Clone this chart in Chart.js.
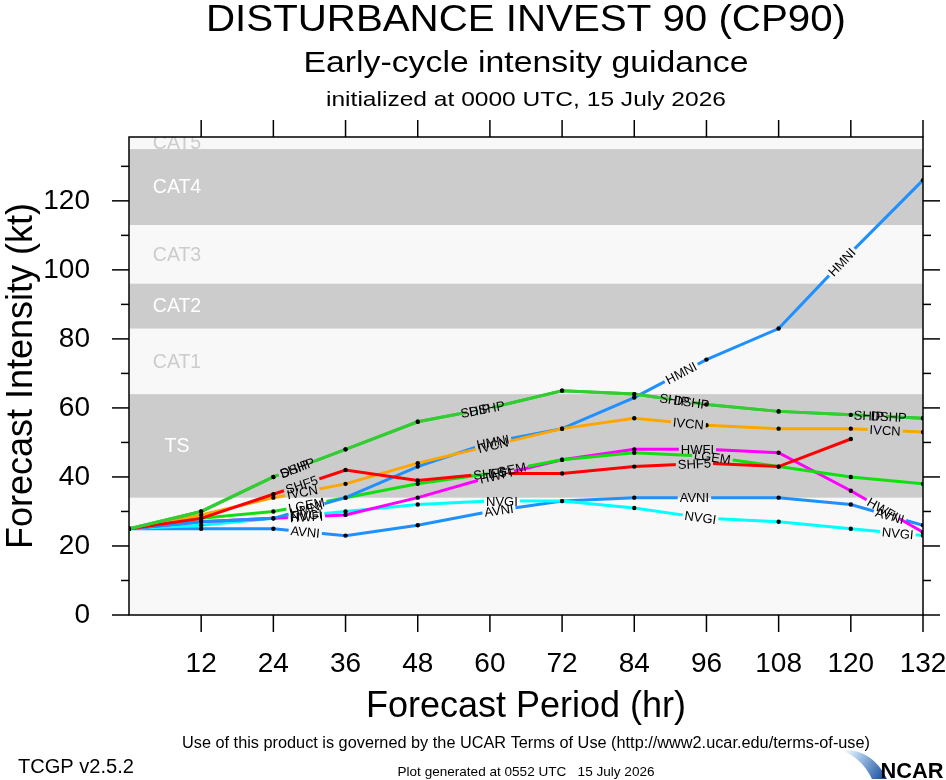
<!DOCTYPE html>
<html><head><meta charset="utf-8">
<script src="https://cdn.jsdelivr.net/npm/chart.js@4.4.1/dist/chart.umd.min.js"></script>
<style>html,body{margin:0;padding:0;background:#fff;overflow:hidden}</style>
</head><body>
<canvas id="c" width="946" height="780"></canvas>
<script>
// ---- data ----
const hours = [0,12,24,36,48,60,72,84,96,108,120,132];
const DSHP = [25,30,40,48,56,60,65,64,61,59,58,57];
const SHIP = [25,30,40,48,56,60,65,64,61,59,58,57];
const SHF5 = [25,28,35,42,39,41,41,43,44,43,51,null];
const IVCN = [25,29,34,38,44,49,54,57,55,54,54,53];
const HMNI = [25,27,28,34,43,50,54,63,74,83,105,126];
const LGEM = [25,28,30,34,38,41,45,47,46,43,40,38];
const HWFI = [25,27,28,29,34,40,45,48,48,47,36,24];
const NVGI = [25,26,28,30,32,33,33,31,28,27,25,23];
const AVNI = [25,25,25,23,26,30,33,34,34,34,32,26];
const modelNames = ['DSHP','SHIP','SHF5','IVCN','HMNI','LGEM','HWFI','NVGI','AVNI'];
const modelValues = [DSHP,SHIP,SHF5,IVCN,HMNI,LGEM,HWFI,NVGI,AVNI];
const modelColors = ['#33cc33','#33cc33','#ff0000','#ffa500','#1e90ff','#10e010','#ff00ff','#00ffff','#1e90ff'];
// hours along each line where its name is written
const labelHours = [
  [28,59.5,93.5,126.3],
  [27.5,57.6,90.7,123],
  [28.7,60,94],
  [28.8,60.5,93,125.7],
  [29.5,60.5,91.8,118.5],
  [29.5,63,97],
  [29.5,61,94.5,125.3],
  [29.5,62,95,127.8],
  [29.3,61.5,94,126.5]
];
const xTicks = [12,24,36,48,60,72,84,96,108,120,132];
const yMajor = [0,20,40,60,80,100,120];
const yMinor = [10,30,50,70,90,110,130];
const bandNames = ['TS','CAT1','CAT2','CAT3','CAT4','CAT5'];
const bandLow  = [34,64,83,96,113,135];
const bandHigh = [64,83,96,113,135,138.5];
const bandShaded = [true,false,true,false,true,false];

const FAM = '"Liberation Sans", Arial, Helvetica, sans-serif';
Chart.defaults.font.family = FAM;
Chart.defaults.color = '#000';

function fitText(ctx, text, cx, baseline, size, width, weight) {
  ctx.save();
  ctx.font = (weight || '') + ' ' + size + 'px ' + FAM;
  const w = ctx.measureText(text).width;
  const s = width ? width / w : 1;
  ctx.translate(cx, baseline);
  ctx.scale(s, 1);
  ctx.textAlign = 'center';
  ctx.textBaseline = 'alphabetic';
  ctx.fillStyle = '#000';
  ctx.fillText(text, 0, 0);
  ctx.restore();
}

function labelGeom(chart, di) {
  const xs = chart.scales.x, ys = chart.scales.y, ctx = chart.ctx;
  const vals = modelValues[di];
  ctx.save();
  ctx.font = '13px ' + FAM;
  const w = ctx.measureText(modelNames[di]).width;
  ctx.restore();
  const out = [];
  labelHours[di].forEach(h => {
    for (let i = 0; i < hours.length - 1; i++) {
      if (h >= hours[i] && h <= hours[i+1] && vals[i] != null && vals[i+1] != null) {
        const t = (h - hours[i]) / (hours[i+1] - hours[i]);
        const v = vals[i] + t * (vals[i+1] - vals[i]);
        const x1 = xs.getPixelForValue(hours[i]), y1 = ys.getPixelForValue(vals[i]);
        const x2 = xs.getPixelForValue(hours[i+1]), y2 = ys.getPixelForValue(vals[i+1]);
        out.push({x: xs.getPixelForValue(h), y: ys.getPixelForValue(v), a: Math.atan2(y2 - y1, x2 - x1), w});
        break;
      }
    }
  });
  return out;
}

const plotPlugin = {
  id: 'plotPlugin',
  beforeDatasetsDraw(chart) {
    const {ctx, chartArea: ca} = chart;
    const ys = chart.scales.y;
    ctx.save();
    ctx.fillStyle = '#f8f8f8';
    ctx.fillRect(ca.left, ca.top, ca.right - ca.left, ca.bottom - ca.top);
    ctx.beginPath();
    ctx.rect(ca.left, ca.top, ca.right - ca.left, ca.bottom - ca.top);
    ctx.clip();
    bandNames.forEach((n, i) => {
      const yTop = ys.getPixelForValue(bandHigh[i]);
      const yBot = ys.getPixelForValue(bandLow[i]);
      if (bandShaded[i]) {
        ctx.fillStyle = '#cccccc';
        ctx.fillRect(ca.left, yTop, ca.right - ca.left, yBot - yTop);
      }
    });
    ctx.font = '19.5px ' + FAM;
    ctx.textAlign = 'center';
    ctx.textBaseline = 'middle';
    bandNames.forEach((n, i) => {
      const yMid = ys.getPixelForValue((bandHigh[i] + bandLow[i]) / 2);
      ctx.fillStyle = bandShaded[i] ? '#ffffff' : '#cccccc';
      ctx.fillText(n, ca.left + 48, yMid + 1);
    });
    ctx.restore();
  },
  beforeDatasetDraw(chart, args) {
    const ctx = chart.ctx;
    const labs = labelGeom(chart, args.index);
    ctx.save();
    ctx.beginPath();
    ctx.rect(0, 0, chart.width, chart.height);
    labs.forEach(l => {
      const hw = l.w / 2 + 2, hh = 6.5;
      const c = Math.cos(l.a), s = Math.sin(l.a);
      const pts = [[-hw,-hh],[hw,-hh],[hw,hh],[-hw,hh]].map(([u,v]) => [l.x + u*c - v*s, l.y + u*s + v*c]);
      ctx.moveTo(pts[0][0], pts[0][1]);
      for (let k = 1; k < 4; k++) ctx.lineTo(pts[k][0], pts[k][1]);
      ctx.closePath();
    });
    ctx.clip('evenodd');
  },
  afterDatasetDraw(chart) {
    chart.ctx.restore();
  },
  afterDatasetsDraw(chart) {
    const ctx = chart.ctx;
    for (let di = modelNames.length - 1; di >= 0; di--) {
      labelGeom(chart, di).forEach(l => {
        ctx.save();
        ctx.translate(l.x, l.y);
        ctx.rotate(l.a);
        ctx.font = '13px ' + FAM;
        ctx.fillStyle = '#000';
        ctx.textAlign = 'center';
        ctx.textBaseline = 'middle';
        ctx.fillText(modelNames[di], 0, 1);
        ctx.restore();
      });
    }
  },
  afterDraw(chart) {
    const {ctx, chartArea: ca} = chart;
    const xs = chart.scales.x, ys = chart.scales.y;
    ctx.save();
    ctx.strokeStyle = '#000';
    ctx.lineWidth = 1.5;
    ctx.strokeRect(ca.left, ca.top, ca.right - ca.left, ca.bottom - ca.top);
    const line = (a, b, c, d) => { ctx.beginPath(); ctx.moveTo(a, b); ctx.lineTo(c, d); ctx.stroke(); };
    yMajor.forEach(v => { const y = ys.getPixelForValue(v); line(ca.left - 17, y, ca.left, y); line(ca.right, y, ca.right + 17, y); });
    yMinor.forEach(v => { const y = ys.getPixelForValue(v); line(ca.left - 8, y, ca.left, y); line(ca.right, y, ca.right + 8, y); });
    xTicks.forEach(h => { const x = xs.getPixelForValue(h); line(x, ca.bottom, x, ca.bottom + 17); line(x, ca.top, x, ca.top - 17); });
    ctx.restore();

    const cx = (ca.left + ca.right) / 2;
    fitText(ctx, 'DISTURBANCE INVEST 90 (CP90)', cx, 31, 37, 640);
    fitText(ctx, 'Early-cycle intensity guidance', cx, 72, 29, 445);
    fitText(ctx, 'initialized at 0000 UTC, 15 July 2026', cx, 106, 21, 400);
    fitText(ctx, 'Use of this product is governed by the UCAR Terms of Use (http://www2.ucar.edu/terms-of-use)', cx, 748, 16, 688);
    fitText(ctx, 'TCGP v2.5.2', 76, 773, 20.5, 116);
    fitText(ctx, 'Plot generated at 0552 UTC   15 July 2026', cx, 776, 13.5, 257);

    // NCAR logo
    ctx.save();
    const g = ctx.createLinearGradient(842, 750, 884, 778);
    g.addColorStop(0, '#ffffff');
    g.addColorStop(0.35, '#a9c8ea');
    g.addColorStop(1, '#1b4f9e');
    ctx.fillStyle = g;
    ctx.beginPath();
    ctx.moveTo(841, 750);
    ctx.quadraticCurveTo(872, 748, 887, 779);
    ctx.lineTo(872, 779);
    ctx.quadraticCurveTo(862, 758, 841, 750);
    ctx.closePath();
    ctx.fill();
    ctx.restore();
    fitText(ctx, 'NCAR', 912, 778, 22, 63, 'bold');
  }
};

const datasets = modelNames.map((n, i) => ({
  label: n,
  data: hours.map((h, k) => ({x: h, y: modelValues[i][k]})).filter(p => p.y != null),
  borderColor: modelColors[i],
  backgroundColor: modelColors[i],
  borderWidth: 3,
  pointRadius: 2.2,
  pointBackgroundColor: '#000',
  pointBorderWidth: 0,
  pointHoverRadius: 0,
  tension: 0,
  fill: false
}));

new Chart(document.getElementById('c'), {
  type: 'line',
  data: {datasets},
  options: {
    responsive: false,
    animation: false,
    devicePixelRatio: 1,
    layout: {padding: {top: 137, right: 23, left: 0, bottom: 0}},
    plugins: {legend: {display: false}, tooltip: {enabled: false}, title: {display: false}},
    events: [],
    scales: {
      x: {
        type: 'linear', min: 0, max: 132,
        afterFit: s => { s.height = 165; s.paddingLeft = 0; s.paddingRight = 0; },
        afterBuildTicks: s => { s.ticks = xTicks.map(v => ({value: v})); },
        ticks: {autoSkip: false, maxRotation: 0, font: {size: 28}, color: '#000', padding: 32},
        grid: {display: false, drawTicks: false},
        border: {display: false},
        title: {display: true, text: 'Forecast Period (hr)', font: {size: 36}, color: '#000', padding: {top: 0, bottom: 51}}
      },
      y: {
        type: 'linear', min: 0, max: 138.5,
        afterFit: s => { s.width = 129; s.paddingTop = 0; s.paddingBottom = 0; },
        afterBuildTicks: s => { s.ticks = yMajor.map(v => ({value: v})); },
        ticks: {font: {size: 28}, color: '#000', padding: 39},
        grid: {display: false, drawTicks: false},
        border: {display: false},
        title: {display: true, text: 'Forecast Intensity (kt)', font: {size: 36}, color: '#000', padding: {top: 0, bottom: 0}}
      }
    }
  },
  plugins: [plotPlugin]
});
</script>
</body></html>
